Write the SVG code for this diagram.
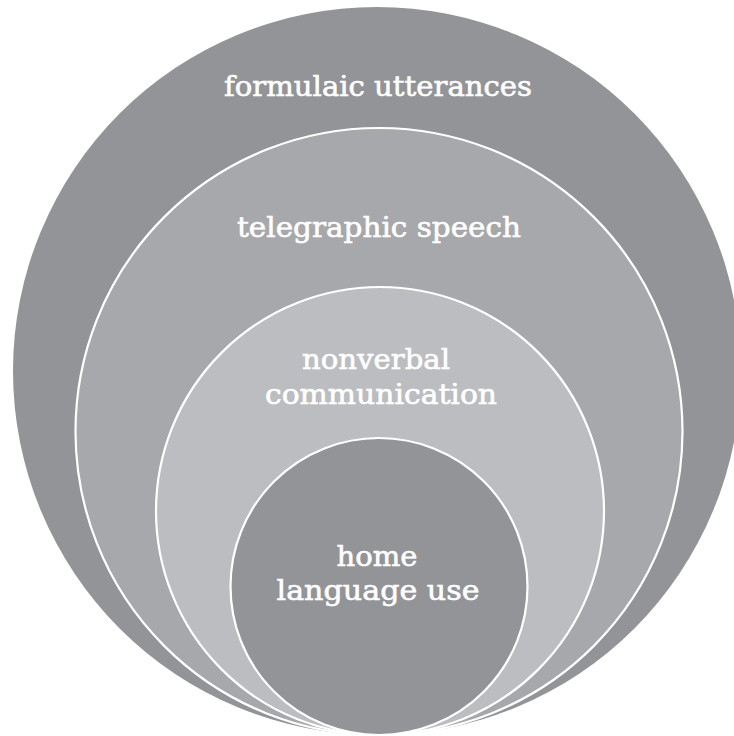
<svg xmlns="http://www.w3.org/2000/svg" width="734" height="736" viewBox="0 0 734 736">
  <style>
    .ring { stroke: #ffffff; stroke-width: 2.2; }
    .label { font-family: "DejaVu Serif", "Liberation Serif", serif; font-size: 28px; fill: #ffffff; stroke: #ffffff; stroke-width: 0.6; text-anchor: middle; }
  </style>
  <rect x="0" y="0" width="734" height="736" fill="#ffffff"/>
  <g id="formulaic-utterances">
    <circle cx="377" cy="371" r="364" fill="#939498"/>
    <text class="label" x="378" y="96" textLength="308" lengthAdjust="spacingAndGlyphs">formulaic utterances</text>
  </g>
  <g id="telegraphic-speech">
    <circle class="ring" cx="379" cy="431.5" r="303.5" fill="#a7a8ab"/>
    <text class="label" x="379" y="237" textLength="284" lengthAdjust="spacingAndGlyphs">telegraphic speech</text>
  </g>
  <g id="nonverbal-communication">
    <circle class="ring" cx="380" cy="511" r="224" fill="#bcbdc0"/>
    <text class="label" x="376" y="369" textLength="148" lengthAdjust="spacingAndGlyphs">nonverbal</text>
    <text class="label" x="381" y="404" textLength="232" lengthAdjust="spacingAndGlyphs">communication</text>
  </g>
  <g id="home-language-use">
    <circle class="ring" cx="379" cy="586.5" r="148.5" fill="#939498"/>
    <text class="label" x="377" y="566" textLength="81" lengthAdjust="spacingAndGlyphs">home</text>
    <text class="label" x="378" y="600" textLength="203" lengthAdjust="spacingAndGlyphs">language use</text>
  </g>
  <g id="connectors"/>
</svg>
